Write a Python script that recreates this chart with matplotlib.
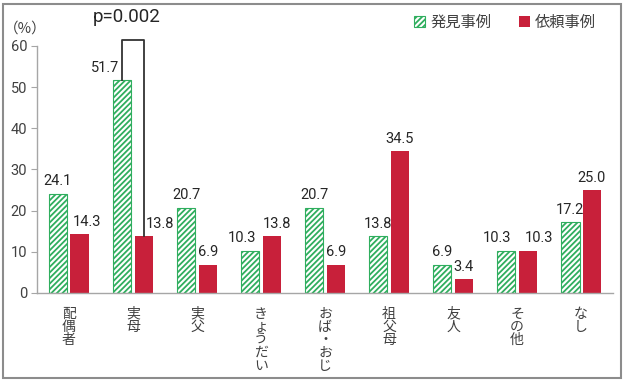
import numpy as np
import matplotlib
matplotlib.use('Agg')
import matplotlib.pyplot as plt
import matplotlib.patches as mpatches

plt.rcParams['font.family'] = ['Noto Sans CJK JP', 'DejaVu Sans']
plt.rcParams['hatch.linewidth'] = 1.3

# データ
categories = ['配偶者', '実母', '実父', 'きょうだい', 'おば・おじ', '祖父母', '友人', 'その他', 'なし']
found = [24.1, 51.7, 20.7, 10.3, 20.7, 13.8, 6.9, 10.3, 17.2]      # 発見事例
request = [14.3, 13.8, 6.9, 13.8, 6.9, 34.5, 3.4, 10.3, 25.0]     # 依頼事例
series_names = ['発見事例', '依頼事例']
p_text = 'p=0.002'

GREEN = '#2fae5e'
RED = '#c8203a'
TXT = '#262626'
GRAY = '#a6a6a6'
NUMFONT = 'Roboto'

# ラベルの横ずれ（重なり回避用）
found_shift = {1: -0.04, 3: -0.12, 7: -0.14}
request_shift = {0: 0.12, 1: 0.25, 3: 0.08, 7: 0.17}

fig = plt.figure(figsize=(6.25, 3.83), dpi=100)
ax = fig.add_axes([0.059, 0.235, 0.922, 0.645])

x = np.arange(len(categories))
w = 0.29
off = 0.17
b1 = ax.bar(x - off, found, w, facecolor='white', edgecolor=GREEN, hatch='//////',
            linewidth=0.8, label=series_names[0])
b2 = ax.bar(x + off, request, w, color=RED, label=series_names[1])

# 値ラベル
for i in range(len(categories)):
    fx = x[i] - off + found_shift.get(i, 0)
    rx = x[i] + off + request_shift.get(i, 0)
    fha = 'right' if i == 1 else 'center'
    ax.text(fx, found[i] + 1.3, f'{found[i]:.1f}', ha=fha, va='bottom',
            fontsize=10.5, color=TXT, family=NUMFONT)
    ax.text(rx, request[i] + 1.3, f'{request[i]:.1f}', ha='center', va='bottom',
            fontsize=10.5, color=TXT, family=NUMFONT)

# 有意差ブラケット
top = 61.5
ax.plot([x[1] - off, x[1] - off, x[1] + off, x[1] + off], [found[1], top, top, request[1]],
        color='#333333', lw=1.3, clip_on=False)
ax.text(x[1] - 0.1, 67, p_text, ha='center', va='center', fontsize=13.5, color=TXT,
        family=NUMFONT, clip_on=False)

ax.set_xlim(-0.5, len(categories) - 0.5)
ax.set_ylim(0, 60)
ax.set_yticks(np.arange(0, 61, 10))
ax.set_xticks(x)
ax.set_xticklabels(['\n'.join(c) for c in categories], fontsize=10, color='#404040',
                   linespacing=0.91, va='top')
ax.tick_params(axis='x', length=0, pad=10)
ax.tick_params(axis='y', length=4, color=GRAY, labelsize=10.5, labelcolor='#404040', pad=3)
for lbl in ax.get_yticklabels():
    lbl.set_family(NUMFONT)
for s in ['top', 'right']:
    ax.spines[s].set_visible(False)
for s in ['left', 'bottom']:
    ax.spines[s].set_color(GRAY)
    ax.spines[s].set_linewidth(1.0)

fig.text(0.04, 0.925, '（%）', fontsize=10.5, color='#404040', va='center', ha='center')

fig.legend(handles=[b1, b2], labels=series_names, loc='upper right', ncol=2,
           bbox_to_anchor=(0.975, 1.0), frameon=False, fontsize=11,
           handlelength=0.75, handleheight=0.75, handletextpad=0.3, columnspacing=1.8,
           labelcolor='#404040')

# 外枠
fig.patches.append(mpatches.Rectangle((0.004, 0.012), 0.99, 0.978, transform=fig.transFigure,
                                      fill=False, edgecolor='#8c8c8c', linewidth=1.5))

fig.savefig('out.png', dpi=100)
